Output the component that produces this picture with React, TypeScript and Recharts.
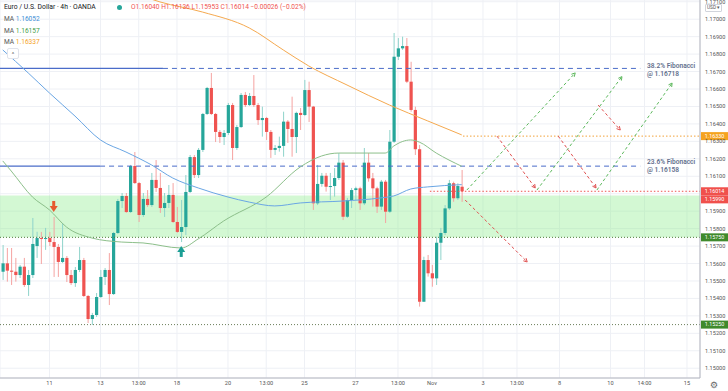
import {
  ComposedChart,
  Bar,
  Line,
  XAxis,
  YAxis,
  CartesianGrid,
  ReferenceLine,
  ReferenceArea,
  ReferenceDot,
} from "recharts";

// 4h candles, [open, high, low, close]
const ohlc: number[][] = [
  [1.15553, 1.15706, 1.15506, 1.15601],
  [1.15601, 1.15689, 1.15496, 1.15559],
  [1.15559, 1.15689, 1.15477, 1.15553],
  [1.15553, 1.15632, 1.15496, 1.15534],
  [1.15534, 1.15592, 1.15517, 1.15582],
  [1.15582, 1.15632, 1.15466, 1.15477],
  [1.15477, 1.15563, 1.15414, 1.15534],
  [1.15534, 1.15861, 1.15517, 1.15712],
  [1.157, 1.15782, 1.15632, 1.15746],
  [1.15746, 1.15781, 1.15597, 1.15741],
  [1.15741, 1.15804, 1.15678, 1.15746],
  [1.15746, 1.15781, 1.157, 1.15723],
  [1.15723, 1.15867, 1.15523, 1.15695],
  [1.15695, 1.15712, 1.15523, 1.15609],
  [1.15609, 1.15832, 1.15603, 1.15632],
  [1.15632, 1.15643, 1.15494, 1.15534],
  [1.15534, 1.15563, 1.15477, 1.15488],
  [1.15488, 1.1558, 1.15466, 1.15563],
  [1.15563, 1.15695, 1.15551, 1.1562],
  [1.1562, 1.15632, 1.15408, 1.15414],
  [1.15414, 1.1542, 1.15259, 1.15282],
  [1.15282, 1.15317, 1.15248, 1.15305],
  [1.15305, 1.15431, 1.15294, 1.15408],
  [1.15408, 1.15563, 1.15403, 1.15523],
  [1.15523, 1.15574, 1.15477, 1.15563],
  [1.15563, 1.1566, 1.15362, 1.15425],
  [1.15425, 1.15781, 1.1542, 1.15775],
  [1.15775, 1.1597, 1.15769, 1.15958],
  [1.15958, 1.16004, 1.15918, 1.15987],
  [1.15987, 1.16004, 1.1589, 1.15895],
  [1.15895, 1.16165, 1.1589, 1.16159],
  [1.16159, 1.16239, 1.16056, 1.16061],
  [1.16061, 1.16067, 1.15838, 1.15878],
  [1.15878, 1.16004, 1.15867, 1.1597],
  [1.1597, 1.16021, 1.15924, 1.15935],
  [1.15935, 1.16119, 1.15924, 1.16079],
  [1.16079, 1.16193, 1.1601, 1.16033],
  [1.16033, 1.16119, 1.1589, 1.15918],
  [1.15918, 1.16004, 1.15867, 1.15947],
  [1.15947, 1.1605, 1.15918, 1.15993],
  [1.15993, 1.16061, 1.15832, 1.15838],
  [1.15838, 1.15924, 1.15775, 1.15781],
  [1.15781, 1.15964, 1.15723, 1.15809],
  [1.15809, 1.16107, 1.15763, 1.1601],
  [1.1601, 1.16222, 1.16004, 1.1621],
  [1.1621, 1.16222, 1.1609, 1.16107],
  [1.16107, 1.16262, 1.1609, 1.16251],
  [1.16251, 1.16463, 1.16239, 1.16457],
  [1.16457, 1.16612, 1.16451, 1.16606],
  [1.16606, 1.16692, 1.16451, 1.16457],
  [1.16457, 1.16463, 1.16296, 1.16354],
  [1.16354, 1.16365, 1.16291, 1.16325],
  [1.16325, 1.16365, 1.16279, 1.16348],
  [1.16348, 1.1652, 1.16336, 1.16508],
  [1.16508, 1.1652, 1.16193, 1.16262],
  [1.16262, 1.16394, 1.16251, 1.16382],
  [1.16382, 1.16577, 1.16377, 1.16566],
  [1.16566, 1.16583, 1.16497, 1.16508],
  [1.16508, 1.16577, 1.16503, 1.1656],
  [1.1656, 1.1668, 1.16497, 1.16508],
  [1.16508, 1.1652, 1.16394, 1.16422],
  [1.16422, 1.16499, 1.16327, 1.16434],
  [1.16434, 1.1644, 1.16308, 1.16354],
  [1.16354, 1.16365, 1.16205, 1.16251],
  [1.16251, 1.16279, 1.16222, 1.16262],
  [1.16262, 1.16327, 1.16241, 1.16274],
  [1.16274, 1.1647, 1.16212, 1.16413],
  [1.16413, 1.16422, 1.16291, 1.16371],
  [1.16371, 1.16556, 1.16212, 1.16325],
  [1.16325, 1.1647, 1.16233, 1.16463],
  [1.16463, 1.16491, 1.16365, 1.16451],
  [1.16451, 1.16652, 1.16445, 1.16594],
  [1.16594, 1.16642, 1.16411, 1.16499],
  [1.16499, 1.16503, 1.15907, 1.15945],
  [1.15945, 1.16165, 1.15935, 1.16056],
  [1.16056, 1.16119, 1.1604, 1.16103],
  [1.16103, 1.16119, 1.16012, 1.1604],
  [1.1604, 1.16119, 1.15964, 1.16044],
  [1.16044, 1.16147, 1.15983, 1.1609],
  [1.1609, 1.16233, 1.16079, 1.16178],
  [1.16178, 1.16193, 1.15849, 1.15868],
  [1.15868, 1.15976, 1.15861, 1.15964],
  [1.15964, 1.16033, 1.15918, 1.16021],
  [1.16021, 1.1604, 1.15964, 1.16031],
  [1.16031, 1.1604, 1.15907, 1.15945],
  [1.15945, 1.16262, 1.15935, 1.16178],
  [1.16178, 1.16233, 1.16069, 1.16088],
  [1.16088, 1.16119, 1.15926, 1.16031],
  [1.16031, 1.1604, 1.1589, 1.15926],
  [1.15926, 1.16079, 1.15907, 1.16069],
  [1.16069, 1.16079, 1.15832, 1.15897],
  [1.15897, 1.16365, 1.1589, 1.16298],
  [1.16298, 1.16921, 1.16291, 1.16785],
  [1.16785, 1.16892, 1.16766, 1.16833],
  [1.16833, 1.169, 1.16824, 1.16846],
  [1.16846, 1.16892, 1.16634, 1.16642],
  [1.16642, 1.16756, 1.1647, 1.1648],
  [1.1648, 1.16499, 1.16222, 1.16255],
  [1.16255, 1.16279, 1.15353, 1.15381],
  [1.15381, 1.15639, 1.15381, 1.1562],
  [1.1562, 1.15649, 1.15525, 1.15544],
  [1.15544, 1.15592, 1.15467, 1.15515],
  [1.15515, 1.15754, 1.15477, 1.15719],
  [1.15719, 1.15804, 1.1562, 1.15775],
  [1.15775, 1.15935, 1.15763, 1.15916],
  [1.15916, 1.16079, 1.15907, 1.1606],
  [1.1606, 1.16069, 1.15954, 1.15974],
  [1.15974, 1.1606, 1.15964, 1.16044],
  [1.1604, 1.16136, 1.15953, 1.16014],
];

// moving averages read at a few candles: [candle index, value]
const maBlue = [
  [0, 1.16824], [6, 1.16692], [11, 1.16577], [17, 1.16445], [23, 1.16308],
  [29, 1.16239], [35, 1.16165], [40, 1.1609], [46, 1.16033], [53, 1.15981],
  [58, 1.15952], [64, 1.1593], [70, 1.15947], [80, 1.15958], [89, 1.15976],
  [92, 1.15987], [96, 1.16027], [100, 1.16039], [108, 1.16052],
];
const maGreen = [
  [0, 1.16188], [2, 1.1613], [7, 1.15981], [11, 1.15907], [15, 1.15809],
  [21, 1.15746], [28, 1.15723], [33, 1.15718], [42, 1.15689], [46, 1.15741],
  [52, 1.15844], [62, 1.15981], [70, 1.16153], [75, 1.16216], [79, 1.16233],
  [90, 1.16233], [92, 1.16273], [96, 1.16308], [98, 1.16296], [102, 1.16233],
  [108, 1.16157],
];
const maOrange = [
  [30, 1.17156], [37, 1.17099], [47, 1.17041], [58, 1.1695], [66, 1.16824],
  [72, 1.16732], [81, 1.16623], [91, 1.16508], [100, 1.16417], [108, 1.16337],
];

const timeTicks = [11, 23, 32, 41, 53, 62, 71, 83, 93, 101, 113, 121, 131, 143, 151, 161];
const timeLabels = ["11", "13", "13:00", "18", "20", "13:00", "25", "27", "13:00", "Nov", "3", "13:00", "8", "10", "14:00", "15"];
const priceTicks = [
  1.15, 1.151, 1.152, 1.153, 1.154, 1.155, 1.156, 1.157, 1.158, 1.159, 1.16,
  1.161, 1.162, 1.163, 1.164, 1.165, 1.166, 1.167, 1.168, 1.169, 1.17, 1.171,
];
// tick hidden behind the price tags on the scale
const coveredTicks = [1.16];

// projection arrows drawn on the chart: [x1, y1, x2, y2] in candle index / price
const projUp = [
  [109.2, 1.16021, 134.7, 1.16692],
  [125.7, 1.16021, 145.7, 1.16671],
  [139.8, 1.16021, 157.5, 1.16634],
];
const projDown = [
  [108.8, 1.15964, 123.4, 1.15609],
  [116.3, 1.1633, 125.3, 1.16033],
  [130.7, 1.1633, 139.6, 1.16033],
  [140.1, 1.16508, 145.3, 1.16365],
];

const UP = "#26a69a";
const DOWN = "#ef5350";
const FIB = "#4a6cc9";
const X_DOMAIN = [-0.64, 164.06];
const Y_DOMAIN = [1.14944, 1.1711];

const data = ohlc.map(([o, h, l, c], i) => ({ i, o, h, l, c, range: [l, h] })) as any[];
maBlue.forEach(([i, v]) => (data[i].maBlue = v));
maGreen.forEach(([i, v]) => (data[i].maGreen = v));
maOrange.forEach(([i, v]) => (data[i].maOrange = v));

function Candle(props: any) {
  const { x, y, width, height, payload } = props;
  if (!payload || height == null) return null;
  const { o, h, l, c } = payload;
  const up = c >= o;
  const k = height / (h - l);
  const cx = x + width / 2;
  const top = y + (h - Math.max(o, c)) * k;
  const bh = Math.max(1, Math.abs(o - c) * k);
  return (
    <g>
      <line x1={cx} x2={cx} y1={y} y2={y + height} stroke={up ? "#8fd3cb" : "#f5a3a1"} strokeWidth={1} />
      <rect x={cx - 1.6} y={top} width={3.2} height={bh} fill={up ? UP : DOWN} />
    </g>
  );
}

const arrowShape = (color: string) => (p: any) => {
  const { x1, y1, x2, y2 } = p;
  const a = Math.atan2(y2 - y1, x2 - x1);
  const s = 4;
  return (
    <g>
      <line x1={x1} y1={y1} x2={x2} y2={y2} stroke={color} strokeWidth={1} strokeDasharray="3 2.5" />
      <line x1={x2} y1={y2} x2={x2 - s * Math.cos(a - 0.5)} y2={y2 - s * Math.sin(a - 0.5)} stroke={color} strokeWidth={1} />
      <line x1={x2} y1={y2} x2={x2 - s * Math.cos(a + 0.5)} y2={y2 - s * Math.sin(a + 0.5)} stroke={color} strokeWidth={1} />
    </g>
  );
};

const tag = (text: string, bg: string, dy = 0) => (p: any) => {
  const yy = p.viewBox.y + dy;
  return (
    <g>
      <rect x={701} y={yy - 4} width={27} height={8} fill={bg} />
      <text x={714.5} y={yy} dy="0.35em" textAnchor="middle" fontSize={5.4} fill="#fff">
        {text}
      </text>
    </g>
  );
};

const DownMark = (p: any) => (
  <g fill="#e65a2e">
    <rect x={p.cx - 1.5} y={p.cy - 6} width={3} height={5} />
    <path d={`M${p.cx - 4},${p.cy - 1} L${p.cx + 4},${p.cy - 1} L${p.cx},${p.cy + 5} Z`} />
  </g>
);
const UpMark = (p: any) => (
  <g fill="#1a9e94">
    <rect x={p.cx - 1.5} y={p.cy + 1} width={3} height={5} />
    <path d={`M${p.cx - 4},${p.cy + 1} L${p.cx + 4},${p.cy + 1} L${p.cx},${p.cy - 5} Z`} />
  </g>
);

const small = { fontSize: 6.6, lineHeight: "8px", position: "absolute" as const, whiteSpace: "nowrap" as const };

export default function App() {
  return (
    <div style={{ position: "relative", width: 728, height: 391, fontFamily: "Roboto, sans-serif", background: "#fff" }}>
      <style>{"body{margin:0}"}</style>
      <ComposedChart width={728} height={391} data={data} margin={{ top: 0, right: 0, bottom: 0, left: 0 }}>
        <CartesianGrid stroke="#eef0f5" strokeWidth={1} />
        <XAxis
          dataKey="i"
          type="number"
          domain={X_DOMAIN}
          allowDataOverflow
          ticks={timeTicks}
          tickFormatter={(v) => timeLabels[timeTicks.indexOf(v)] ?? ""}
          height={13}
          tickLine={false}
          tickSize={0}
          tickMargin={3}
          axisLine={{ stroke: "#b2b5be" }}
          tick={{ fontSize: 5.6, fill: "#555" }}
          interval={0}
        />
        <YAxis
          orientation="right"
          domain={Y_DOMAIN}
          allowDataOverflow
          ticks={priceTicks}
          tickFormatter={(v) => (coveredTicks.includes(v) ? "" : v.toFixed(5))}
          width={28}
          tickLine={false}
          tickSize={0}
          tickMargin={5}
          axisLine={{ stroke: "#b2b5be" }}
          tick={{ fontSize: 5.6, fill: "#555" }}
          interval={0}
        />
        <ReferenceArea y1={1.1575} y2={1.1599} fill="#90ee90" fillOpacity={0.4} stroke="none" />

        <ReferenceLine y={1.1575} stroke="#4d7a3a" strokeDasharray="1 2" label={tag("1.15750", "#3f8a2c")} />
        <ReferenceLine y={1.1525} stroke="#6b7d5a" strokeDasharray="1 2" label={tag("1.15250", "#3f8a2c")} />
        <ReferenceLine y={1.1599} stroke="none" label={tag("1.15990", "#f0504c", 3.9)} />
        <ReferenceLine
          segment={[{ x: 100.5, y: 1.16014 }, { x: 164.06, y: 1.16014 }]}
          stroke="#ef5350"
          strokeDasharray="1.5 2"
          label={tag("1.16014", "#f0504c")}
        />
        <ReferenceLine
          segment={[{ x: 108.3, y: 1.1633 }, { x: 164.06, y: 1.1633 }]}
          stroke="#f2a23a"
          strokeDasharray="1.5 2"
          label={tag("1.16330", "#f5a31f")}
        />

        <ReferenceLine segment={[{ x: -0.64, y: 1.16718 }, { x: 37.7, y: 1.16718 }]} stroke={FIB} strokeWidth={1.2} />
        <ReferenceLine segment={[{ x: 37.7, y: 1.16718 }, { x: 150, y: 1.16718 }]} stroke={FIB} strokeWidth={1} strokeDasharray="5 4" />
        <ReferenceLine segment={[{ x: -0.64, y: 1.16158 }, { x: 22.9, y: 1.16158 }]} stroke={FIB} strokeWidth={1.2} />
        <ReferenceLine segment={[{ x: 22.9, y: 1.16158 }, { x: 150, y: 1.16158 }]} stroke={FIB} strokeWidth={1} strokeDasharray="5 4" />

        <Line dataKey="maOrange" stroke="#f5a94f" strokeWidth={1} dot={false} activeDot={false} connectNulls type="monotone" isAnimationActive={false} />
        <Line dataKey="maGreen" stroke="#8cbf8a" strokeWidth={1} dot={false} activeDot={false} connectNulls type="monotone" isAnimationActive={false} />
        <Line dataKey="maBlue" stroke="#6aa6e4" strokeWidth={1} dot={false} activeDot={false} connectNulls type="monotone" isAnimationActive={false} />

        <Bar dataKey="range" barSize={3} shape={<Candle />} activeBar={false} isAnimationActive={false} />

        {projUp.map(([a, b, c, d], k) => (
          <ReferenceLine key={"u" + k} segment={[{ x: a, y: b }, { x: c, y: d }]} shape={arrowShape("#5cb85c")} />
        ))}
        {projDown.map(([a, b, c, d], k) => (
          <ReferenceLine key={"d" + k} segment={[{ x: a, y: b }, { x: c, y: d }]} shape={arrowShape("#e05050")} />
        ))}

        <ReferenceDot x={12} y={1.15924} shape={DownMark} />
        <ReferenceDot x={42} y={1.15672} shape={UpMark} />
      </ComposedChart>

      <div style={{ ...small, left: 4, top: 3, color: "#131722", fontSize: 6.8 }}>Euro / U.S. Dollar · 4h · OANDA</div>
      <div style={{ position: "absolute", left: 117, top: 5, width: 5, height: 5, borderRadius: 3, background: UP }} />
      <div style={{ ...small, left: 131, top: 3, color: "#ef5350" }}>O1.16040 H1.16136 L1.15953 C1.16014 −0.00026 (−0.02%)</div>
      <div style={{ ...small, left: 4, top: 15 }}>
        <span style={{ color: "#555" }}>MA </span>
        <span style={{ color: "#3d8fd6" }}>1.16052</span>
      </div>
      <div style={{ ...small, left: 4, top: 27 }}>
        <span style={{ color: "#555" }}>MA </span>
        <span style={{ color: "#43a047" }}>1.16157</span>
      </div>
      <div style={{ ...small, left: 4, top: 38 }}>
        <span style={{ color: "#555" }}>MA </span>
        <span style={{ color: "#f5a31f" }}>1.16337</span>
      </div>
      <div
        style={{
          ...small,
          left: 7,
          top: 48,
          width: 10,
          height: 9,
          lineHeight: "10px",
          textAlign: "center",
          fontSize: 6,
          color: "#555",
          background: "#fff",
          border: "1px solid #e0e3eb",
          borderRadius: 2,
        }}
      >
        ^
      </div>
      <div style={{ ...small, left: 647, top: 62, color: "#5f6e8c", fontWeight: 600 }}>
        38.2% Fibonacci
        <br />@ 1.16718
      </div>
      <div style={{ ...small, left: 647, top: 158, color: "#5f6e8c", fontWeight: 600 }}>
        23.6% Fibonacci
        <br />@ 1.16158
      </div>
      <div
        style={{
          ...small,
          left: 705,
          top: 4,
          fontSize: 4.8,
          lineHeight: "6px",
          padding: "0 1px",
          color: "#555",
          background: "#fff",
          border: "1px solid #d1d4dc",
          borderRadius: 1,
        }}
      >
        USD ▾
      </div>
      <div style={{ ...small, left: 710, top: 380, fontSize: 9, lineHeight: "10px", color: "#666", fontFamily: "DejaVu Sans" }}>⚙</div>
    </div>
  );
}
